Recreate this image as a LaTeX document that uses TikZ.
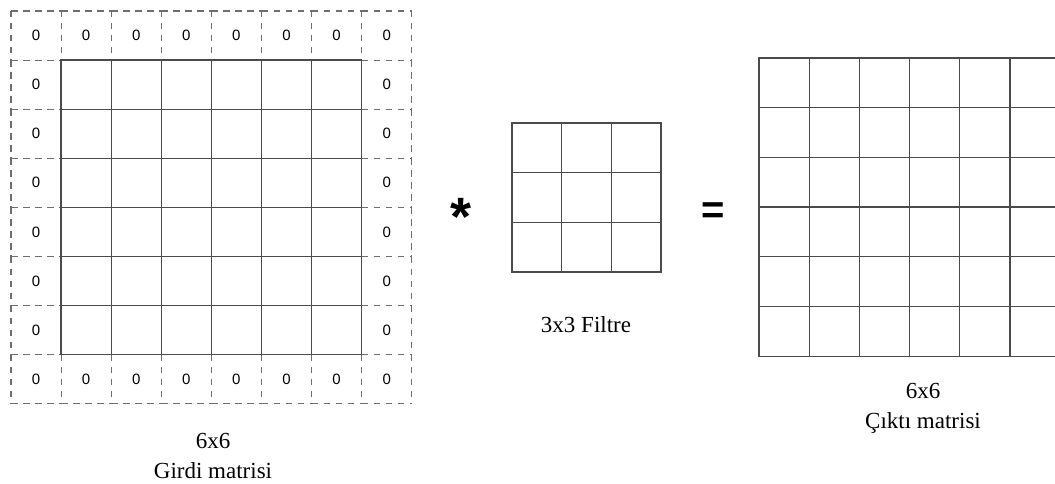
\documentclass[tikz,border=0pt]{standalone}
\usepackage{fontspec}
\setmainfont{Liberation Serif}
\newfontfamily\zerofont{Liberation Sans}
\definecolor{gridline}{RGB}{75,75,75}
\definecolor{padline}{RGB}{110,110,110}
\usetikzlibrary{positioning}

\begin{document}
\begin{tikzpicture}[x=1pt, y=-1pt,
    every node/.style={inner sep=0pt},
    padcell/.style={draw=padline, line width=1.1pt, dash pattern=on 6.5pt off 5.5pt},
    cellgrid/.style={draw=gridline, line width=1.3pt},
    zero/.style={font=\zerofont\fontsize{15}{15}\selectfont},
    caption/.style={anchor=base, font=\fontsize{23}{30}\selectfont},
    op/.style={anchor=base, font=\zerofont\bfseries\fontsize{40}{40}\selectfont}
]
    \clip (0,0) rectangle (1055,484);

    % padded input: ring of zero cells, each edge drawn once
    \foreach \c in {0,...,7} {
        \draw[padcell] (11+\c*50.1, 11) -- ++(50.1, 0)
                       (11+\c*50.1, 11) -- ++(0, 49.1)
                       (11+\c*50.1, 354.7) -- ++(50.1, 0)
                       (11+\c*50.1, 354.7) -- ++(0, 49.1)
                       (11+\c*50.1, 403.8) -- ++(50.1, 0);
        \node[zero] (zt\c) at (36+\c*50.1, 35.5) {0};
        \node[zero] (zb\c) at (36+\c*50.1, 379.3) {0};
    }
    \draw[padcell] (411.8, 11) -- ++(0, 49.1) (411.8, 354.7) -- ++(0, 49.1);
    \foreach \r in {1,...,6} {
        \draw[padcell] (11, 11+\r*49.1) -- ++(50.1, 0)
                       (11, 11+\r*49.1) -- ++(0, 49.1)
                       (361.7, 11+\r*49.1) -- ++(50.1, 0)
                       (411.8, 11+\r*49.1) -- ++(0, 49.1);
        \node[zero] (zl\r) at (36, 35.5+\r*49.1) {0};
        \node[zero] (zr\r) at (386.8, 35.5+\r*49.1) {0};
    }
    % 6x6 input core
    \draw[cellgrid] (61.1, 60.1) rectangle (361.7, 354.7);
    \foreach \k in {1,...,5} {
        \draw[cellgrid] (61.1+\k*50.1, 60.1) -- ++(0, 294.6);
        \draw[cellgrid] (61.1, 60.1+\k*49.1) -- ++(300.6, 0);
    }
    \node[caption] (insize) at (213, 448) {6x6};
    \node[caption] (inname) at ([yshift=-30pt]insize.base) {Girdi matrisi};

    % operator
    \node[op, font=\zerofont\bfseries\fontsize{54}{54}\selectfont] (conv) at (461, 235) {*};

    % 3x3 filter
    \draw[cellgrid] (512, 123) rectangle (661, 272);
    \foreach \k in {1,2} {
        \draw[cellgrid] (512+\k*49.67, 123) -- ++(0, 149);
        \draw[cellgrid] (512, 123+\k*49.67) -- ++(149, 0);
    }
    \node[caption] (filt) at (586, 332) {3x3 Filtre};

    \node[op] (eq) at (713, 223) {=};

    % 6x6 output
    \draw[cellgrid] (759, 58) rectangle (1060.2, 356.2);
    \foreach \k in {1,...,5} {
        \draw[cellgrid] (759+\k*50.2, 58) -- ++(0, 298.2);
        \draw[cellgrid] (759, 58+\k*49.7) -- ++(301.2, 0);
    }
    \node[caption] (outsize) at (923, 398) {6x6};
    \node[caption] (outname) at ([yshift=-30pt]outsize.base) {Çıktı matrisi};
\end{tikzpicture}
\end{document}
